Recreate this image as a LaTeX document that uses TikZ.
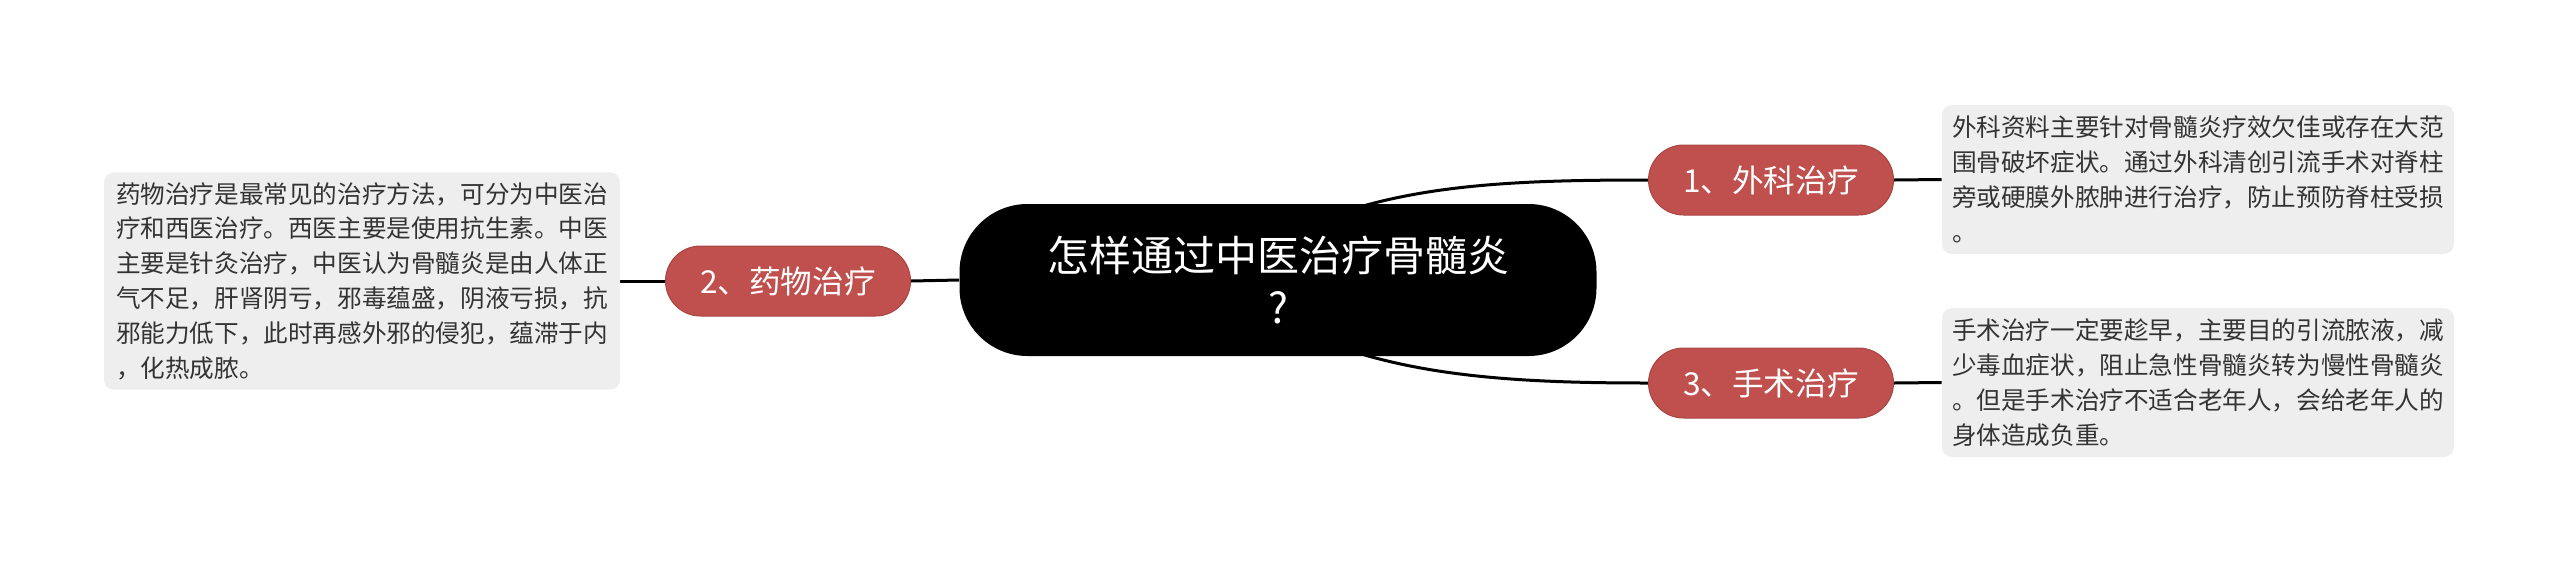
\documentclass[tikz,border=0pt]{standalone}
\usepackage{fontspec}
\usetikzlibrary{backgrounds}
\newfontfamily\cjk{Noto Sans CJK SC}
\definecolor{branchred}{HTML}{C0504D}
\definecolor{branchedge}{HTML}{A84643}
\definecolor{notegray}{HTML}{EEEEEE}
\definecolor{notetext}{HTML}{333333}
\tikzset{
  root/.style={fill=black, text=white, rounded corners=34pt, minimum width=318.5pt, minimum height=76pt, align=center, font=\cjk\fontsize{21}{26}\selectfont},
  branch/.style={fill=branchred, draw=branchedge, line width=0.5pt, text=white, rounded corners=17.5pt, minimum width=122.5pt, minimum height=35pt, font=\cjk\fontsize{15.8}{19}\selectfont},
  note/.style={fill=notegray, text=notetext, rounded corners=5pt, inner xsep=5pt, inner ysep=5pt, align=left, font=\cjk\fontsize{12.3}{17.4}\selectfont},
  link/.style={line width=1.5pt}
}
\begin{document}
\begin{tikzpicture}[x=0.5pt, y=-0.5pt]
\useasboundingbox (0,0) rectangle (2560,563);

\def\rx{1278}
\def\ry{280}

\node[root] (root) at (\rx,\ry) {怎样通过中医治疗骨髓炎\\?};

\node[branch] (n1) at (1771,180) {1、外科治疗};
\node[branch] (n3) at (1771,383) {3、手术治疗};
\node[branch] (n2) at (788,281) {2、药物治疗};

\node[note, minimum width=256pt, minimum height=74.5pt] (t1) at (2198,179.5) {外科资料主要针对骨髓炎疗效欠佳或存在大范\\围骨破坏症状。通过外科清创引流手术对脊柱\\旁或硬膜外脓肿进行治疗，防止预防脊柱受损\\。};
\node[note, minimum width=256pt, minimum height=74.5pt] (t3) at (2198,382.5) {手术治疗一定要趁早，主要目的引流脓液，减\\少毒血症状，阻止急性骨髓炎转为慢性骨髓炎\\。但是手术治疗不适合老年人，会给老年人的\\身体造成负重。};
\node[note, minimum width=258pt, minimum height=106pt, inner xsep=6pt] (t2) at (362,281) {药物治疗是最常见的治疗方法，可分为中医治\\疗和西医治疗。西医主要是使用抗生素。中医\\主要是针灸治疗，中医认为骨髓炎是由人体正\\气不足，肝肾阴亏，邪毒蕴盛，阴液亏损，抗\\邪能力低下，此时再感外邪的侵犯，蕴滞于内\\，化热成脓。};

\begin{scope}[on background layer]
\draw[link] (root.center) ++(0,-40) .. controls +(102,-55) and +(-147,0) .. (n1.west);
\draw[link] (root.center) ++(0,40) .. controls +(102,55) and +(-147,0) .. (n3.west);
\draw[link] (root.west) -- (n2.east);
\draw[link] (n2.west) -- (t2.east);
\draw[link] (n1.east) -- (t1.west);
\draw[link] (n3.east) -- (t3.west);
\end{scope}
\end{tikzpicture}
\end{document}
